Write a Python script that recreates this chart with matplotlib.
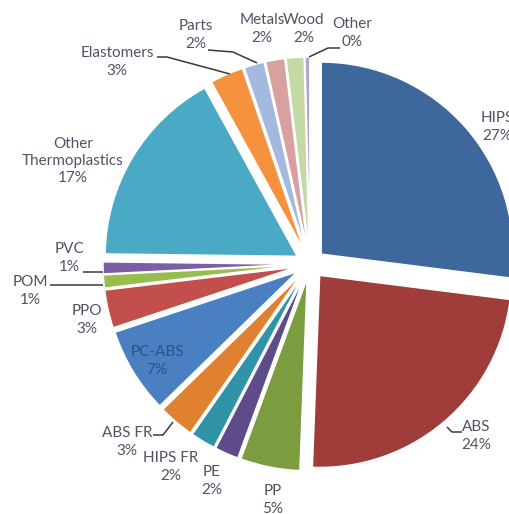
import matplotlib
matplotlib.use("Agg")
import matplotlib.pyplot as plt

# ---- data (clockwise from 12 o'clock) ----
categories = ["HIPS", "ABS", "PP", "PE", "HIPS FR", "ABS FR", "PC-ABS", "PPO",
              "POM", "PVC", "Other\nThermoplastics", "Elastomers", "Parts",
              "Metals", "Wood", "Other"]
shares = [27.0, 23.6, 5.0, 2.0, 2.1, 3.0, 7.2, 3.2,
          1.1, 1.0, 16.8, 2.8, 1.7, 1.6, 1.5, 0.4]
pct_labels = ["27%", "24%", "5%", "2%", "2%", "3%", "7%", "3%",
              "1%", "1%", "17%", "3%", "2%", "2%", "2%", "0%"]

colors = ["#3e679b", "#a03d3a", "#7b9c3f", "#5f4a8a", "#2f94a8", "#df8130",
          "#4a7fc1", "#c24f4c", "#97bd4f", "#7c5ea5", "#4aaac5", "#f5923e",
          "#a5b8de", "#d9a0a0", "#c4d9a4", "#b3a4cf"]

# ---- layout (pixel space of a 509x514 canvas) ----
W, H = 509, 514
CX, CY, R = 310, 264, 192
EXPLODE = 0.078

def to_data(px, py):
    return (px - CX) / R, (CY - py) / R

label_pos = [(497, 127), (476, 436), (273, 500), (212, 481), (171, 467),
             (127, 442), (157, 361), (87, 320), (30, 291), (69, 258),
             (73, 161), (117, 62), (196, 35), (262, 29), (304, 29), (352, 33)]

leaders = [
    [(157, 57), (167, 57), (230, 74)],     # Elastomers
    [(208, 50), (233, 52), (257, 63)],     # Parts
    [(340, 48), (328, 48), (309, 57)],     # Other
    [(83, 272), (103, 272)],               # PVC
    [(50, 285), (103, 285)],               # POM
    [(153, 435), (163, 435), (173, 422)],  # ABS FR
    [(447, 427), (452, 432), (462, 432)],  # ABS
]

plt.rcParams['font.family'] = ['Lato', 'DejaVu Sans']

fig = plt.figure(figsize=(W / 100, H / 100), dpi=100)
ax = fig.add_axes([0, 0, 1, 1])
ax.set_xlim(-CX / R, (W - CX) / R)
ax.set_ylim(-(H - CY) / R, CY / R)
ax.set_aspect('equal')
ax.axis('off')

ax.pie(shares, colors=colors, startangle=90, counterclock=False,
       explode=[EXPLODE] * len(shares), radius=1.0, center=(0, 0),
       wedgeprops=dict(edgecolor='white', linewidth=1.0), frame=True)
ax.set_xlim(-CX / R, (W - CX) / R)
ax.set_ylim(-(H - CY) / R, CY / R)
ax.axis('off')

text_color = "#4d5563"
for name, pct, (px, py) in zip(categories, pct_labels, label_pos):
    x, y = to_data(px, py)
    col = "#2d5289" if name == "PC-ABS" else text_color
    ax.text(x, y, f"{name}\n{pct}", ha='center', va='center', fontsize=11,
            color=col, linespacing=1.3, clip_on=True)

for pts in leaders:
    xs, ys = zip(*[to_data(px, py) for px, py in pts])
    ax.plot(xs, ys, color="#3a3a3a", lw=1.1, solid_capstyle='butt')

fig.savefig("out.png", dpi=100)
